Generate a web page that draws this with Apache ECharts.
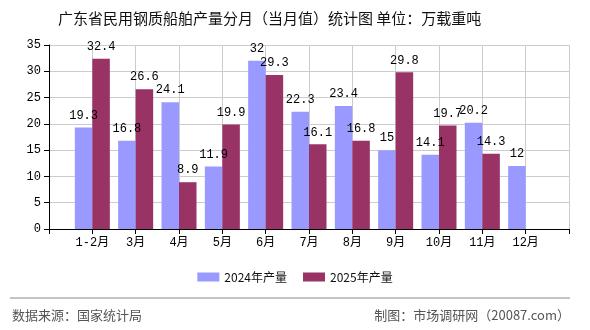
<!DOCTYPE html>
<html>
<head>
<meta charset="utf-8">
<script src="https://cdn.jsdelivr.net/npm/echarts@6/dist/echarts.min.js"></script>
<style>
html, body { margin: 0; padding: 0; background: #fff; }
#chart { width: 590px; height: 330px; }
</style>
</head>
<body>
<div id="chart"></div>
<script>
var months = ['1-2月', '3月', '4月', '5月', '6月', '7月', '8月', '9月', '10月', '11月', '12月'];
var output2024 = [19.3, 16.8, 24.1, 11.9, 32, 22.3, 23.4, 15, 14.1, 20.2, 12];
var output2025 = [32.4, 26.6, 8.9, 19.9, 29.3, 16.1, 16.8, 29.8, 19.7, 14.3, null];
var yTicks = [0, 5, 10, 15, 20, 25, 30, 35];

// 两端补空类目，让刻度落在类目上，右侧留出一格
function pad(arr, v) {
    return [v].concat(arr, [v]);
}

var monoFont = '"Liberation Mono", "Noto Sans CJK SC", monospace';
var cjkFont = '"Noto Sans CJK SC", sans-serif';

var chart = echarts.init(document.getElementById('chart'));
var option = {
    animation: false,
    title: {
        text: '广东省民用钢质船舶产量分月（当月值）统计图 单位：万载重吨',
        left: 53,
        top: 6,
        textStyle: { fontSize: 15, fontWeight: 'normal', color: '#111', fontFamily: cjkFont }
    },
    legend: {
        bottom: 42,
        left: 'center',
        itemWidth: 22,
        itemHeight: 9,
        itemGap: 16,
        icon: 'rect',
        textStyle: { fontSize: 12, color: '#111', fontFamily: cjkFont },
        data: ['2024年产量', '2025年产量']
    },
    grid: { left: 49, right: 21, top: 45, bottom: 101, containLabel: false },
    xAxis: {
        type: 'category',
        boundaryGap: false,
        data: pad(months, ''),
        axisLine: { lineStyle: { color: '#000', width: 1 } },
        axisTick: { show: true, length: 5, lineStyle: { color: '#000' }, interval: 0 },
        axisLabel: { interval: 0, color: '#000', fontSize: 12, fontFamily: monoFont, margin: 8 },
        splitLine: { show: true, lineStyle: { color: '#ccc' } }
    },
    yAxis: {
        type: 'value',
        min: yTicks[0],
        max: yTicks[yTicks.length - 1],
        interval: 5,
        axisLine: { show: true, lineStyle: { color: '#000', width: 1 } },
        axisTick: { show: true, length: 5, lineStyle: { color: '#000' } },
        axisLabel: { color: '#000', fontSize: 12, fontFamily: monoFont, margin: 8 },
        splitLine: { show: true, lineStyle: { color: '#ccc' } }
    },
    series: [{
        name: '2024年产量',
        type: 'bar',
        data: pad(output2024, null),
        barWidth: 17.5,
        barGap: '0%',
        itemStyle: { color: '#9999FF' },
        label: { show: true, position: 'top', color: '#000', fontSize: 12, fontFamily: monoFont, distance: 6 }
    }, {
        name: '2025年产量',
        type: 'bar',
        data: pad(output2025, null),
        barWidth: 17.5,
        barGap: '0%',
        itemStyle: { color: '#993366' },
        label: { show: true, position: 'top', color: '#000', fontSize: 12, fontFamily: monoFont, distance: 6 }
    }],
    graphic: [{
        type: 'line',
        shape: { x1: 10, y1: 298, x2: 570, y2: 298 },
        style: { stroke: '#888', lineWidth: 1 }
    }, {
        type: 'text',
        left: 12,
        top: 309,
        style: { text: '数据来源：国家统计局', fill: '#555', font: '13px "Noto Sans CJK SC", sans-serif' }
    }, {
        type: 'text',
        right: 20,
        top: 309,
        style: { text: '制图：市场调研网（20087.com）', fill: '#555', font: '13px "Noto Sans CJK SC", sans-serif' }
    }]
};
chart.setOption(option);
</script>
</body>
</html>
